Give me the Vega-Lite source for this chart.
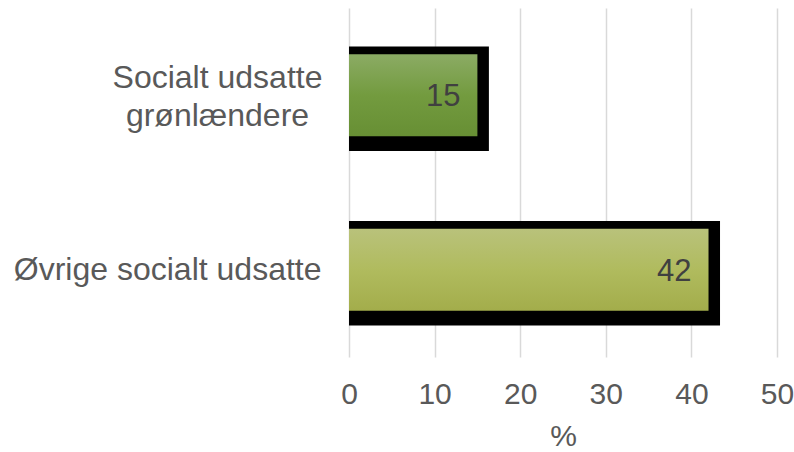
{
  "$schema": "https://vega.github.io/schema/vega-lite/v6.json",
  "width": 428,
  "height": 349,
  "autosize": "none",
  "padding": {"left": 349, "top": 8, "right": 17, "bottom": 95},
  "background": "white",
  "config": {"view": {"stroke": null}, "font": "Liberation Sans"},
  "data": {"values": [
    {"group": "Socialt udsatte grønlændere", "pct": 15},
    {"group": "Øvrige socialt udsatte", "pct": 42}
  ]},
  "encoding": {
    "y": {"field": "group", "type": "nominal", "sort": ["Socialt udsatte grønlændere", "Øvrige socialt udsatte"],
      "scale": {"paddingInner": 0, "paddingOuter": 0},
      "axis": {"title": null, "ticks": false, "domain": false, "grid": false,
        "labelFontSize": 32, "labelColor": "#595959", "labelFont": "Liberation Sans",
        "labelLineHeight": 38,
        "labelExpr": "datum.value == 'Socialt udsatte grønlændere' ? ['Socialt udsatte', 'grønlændere'] : datum.value",
        "labelAlign": {"condition": {"test": "datum.value == 'Socialt udsatte grønlændere'", "value": "center"}, "value": "right"},
        "labelPadding": {"condition": {"test": "datum.value == 'Socialt udsatte grønlændere'", "value": 132}, "value": 28},
        "labelOffset": {"condition": {"test": "datum.value == 'Socialt udsatte grønlændere'", "value": -17}, "value": 0},
        "labelBaseline": "middle", "labelLimit": 400}},
    "x": {"field": "pct", "type": "quantitative", "scale": {"domain": [0, 50], "nice": false},
      "axis": {"title": "%", "titleFontSize": 30, "titleFontWeight": "normal", "titleColor": "#595959", "titlePadding": 12,
        "values": [0, 10, 20, 30, 40, 50], "labelFontSize": 30, "labelColor": "#595959", "labelPadding": 22,
        "ticks": false, "domain": false, "grid": true, "gridColor": "#d9d9d9", "gridWidth": 1.5, "labelFlush": false}}
  },
  "layer": [
    {"mark": {"type": "bar", "color": "black", "height": {"band": 0.6}, "yOffset": 3.5, "xOffset": 11.5, "x2Offset": 0},
     "encoding": {"x": {"field": "pct", "type": "quantitative", "stack": null}, "x2": {"datum": 0}}},
    {"transform": [{"filter": "datum.group == 'Socialt udsatte grønlændere'"}],
     "mark": {"type": "bar", "height": {"band": 0.469},
      "color": {"gradient": "linear", "x1": 0, "y1": 0, "x2": 0, "y2": 1,
        "stops": [{"offset": 0, "color": "#8bab64"}, {"offset": 0.5, "color": "#739b3f"}, {"offset": 1, "color": "#678f34"}]}}},
    {"transform": [{"filter": "datum.group == 'Øvrige socialt udsatte'"}],
     "mark": {"type": "bar", "height": {"band": 0.469},
      "color": {"gradient": "linear", "x1": 0, "y1": 0, "x2": 0, "y2": 1,
        "stops": [{"offset": 0, "color": "#b9c27b"}, {"offset": 0.5, "color": "#b0bb5e"}, {"offset": 1, "color": "#a3ad4b"}]}}},
    {"mark": {"type": "text", "align": "right", "baseline": "middle", "dx": -17, "dy": 2, "fontSize": 31, "color": "#404040"},
     "encoding": {"text": {"field": "pct", "type": "quantitative"}}}
  ]
}
